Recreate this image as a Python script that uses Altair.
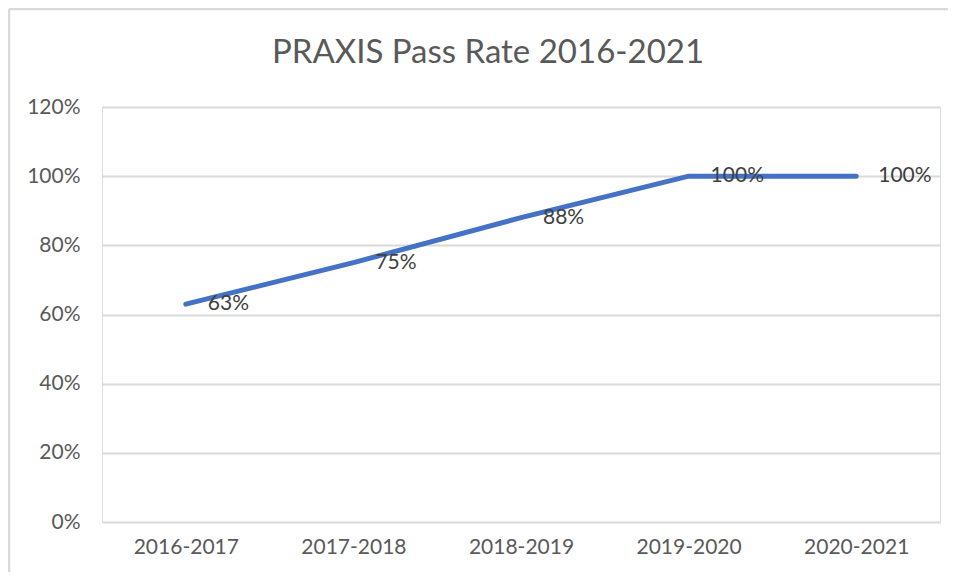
import altair as alt
import pandas as pd

years = ["2016-2017", "2017-2018", "2018-2019", "2019-2020", "2020-2021"]
rates = [0.63, 0.75, 0.88, 1.00, 1.00]
title_text = ["PRAXIS Pass Rate 2016-2021"]

df = pd.DataFrame({"year": years, "rate": rates})
one = pd.DataFrame({"t": title_text})

FONT = "Lato"

x = alt.X("year:N", sort=years, title=None,
          scale=alt.Scale(padding=0.5),
          axis=alt.Axis(labelAngle=0, domain=False, ticks=False, labelPadding=14,
                        labelFontSize=21, labelColor="#595959", labelFont=FONT))
y = alt.Y("rate:Q", title=None,
          scale=alt.Scale(domain=[0, 1.2], nice=False),
          axis=alt.Axis(values=[0, 0.2, 0.4, 0.6, 0.8, 1.0, 1.2], format=".0%",
                        domain=False, ticks=False, labelPadding=22,
                        labelFontSize=21, labelColor="#595959", labelFont=FONT,
                        grid=True, gridColor="#d9d9d9", gridWidth=1.8))

line = alt.Chart(df).mark_line(color="#4472C4", strokeWidth=5, strokeCap="round").encode(x=x, y=y)

labels = alt.Chart(df).mark_text(align="left", baseline="middle", dx=22, fontSize=21,
                                 color="#404040", font=FONT).encode(
    x=alt.X("year:N", sort=years), y="rate:Q",
    text=alt.Text("rate:Q", format=".0%"))

frame_left = alt.Chart(one).mark_rule(stroke="#d9d9d9", strokeWidth=2.5).encode(
    x=alt.value(-93), y=alt.value(-98), y2=alt.value(700))
frame_top = alt.Chart(one).mark_rule(stroke="#d9d9d9", strokeWidth=2.5).encode(
    x=alt.value(-93), x2=alt.value(2000), y=alt.value(-98))

title = alt.Chart(one).mark_text(fontSize=33, font=FONT, color="#595959",
                                 align="center", baseline="alphabetic").encode(
    x=alt.value(386), y=alt.value(-44), text="t:N")

chart = alt.layer(frame_left, frame_top, title, line, labels).properties(
    width=838, height=415,
    autosize=alt.AutoSizeParams(type="none"),
    padding={"left": 94, "top": 99, "right": 8, "bottom": 50},
).configure_view(stroke=None).configure(background="white")

chart.save("out.html", embed_options={"renderer": "svg", "actions": False})
